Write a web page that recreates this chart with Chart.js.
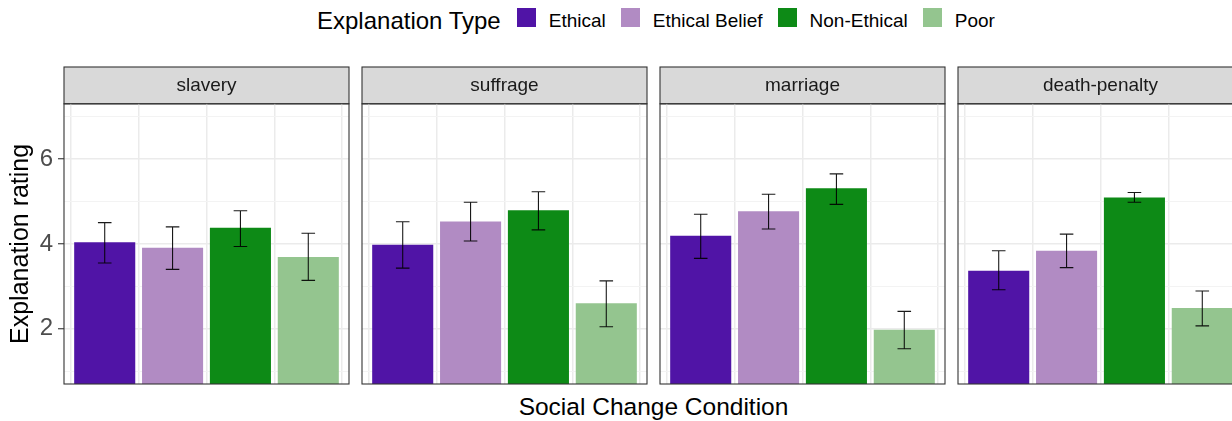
<!DOCTYPE html>
<html>
<head>
<meta charset="utf-8">
<script src="https://cdn.jsdelivr.net/npm/chart.js@4/dist/chart.umd.min.js"></script>
<style>
  html, body { margin: 0; padding: 0; background: #fff; }
  body { width: 1232px; height: 421px; overflow: hidden; position: relative;
         font-family: 'Liberation Sans', Arial, sans-serif; }
  canvas { position: absolute; }
  #legend { position: absolute; left: 317px; top: 0; display: flex; align-items: flex-start; white-space: nowrap; }
  #legend .ttl { font-size: 24px; line-height: 24px; margin-top: 8.7px; margin-right: 16px; color: #000; }
  #legend .sw { width: 19px; height: 19px; margin-top: 8px; margin-right: 13px; }
  #legend .lbl { font-size: 19px; line-height: 19px; margin-top: 10.6px; margin-right: 15px; color: #000; }
  #xtitle { position: absolute; left: 353.5px; width: 600px; text-align: center; top: 394.5px;
            font-size: 24.5px; line-height: 24px; color: #000; }
</style>
</head>
<body>
<div id="legend"></div>
<div id="xtitle">Social Change Condition</div>
<canvas id="c0"></canvas>
<canvas id="c1"></canvas>
<canvas id="c2"></canvas>
<canvas id="c3"></canvas>
<script>
// ---------------- data ----------------
const categories = ['slavery', 'suffrage', 'marriage', 'death-penalty'];
const explanationTypes = ['Ethical', 'Ethical Belief', 'Non-Ethical', 'Poor'];

const ethical       = [4.04, 3.98, 4.19, 3.37];
const ethicalBelief = [3.91, 4.53, 4.77, 3.84];
const nonEthical    = [4.38, 4.79, 5.31, 5.09];
const poor          = [3.69, 2.60, 1.98, 2.49];

const ethicalLow       = [3.55, 3.43, 3.66, 2.92];
const ethicalHigh      = [4.50, 4.52, 4.70, 3.84];
const ethicalBeliefLow = [3.40, 4.07, 4.35, 3.44];
const ethicalBeliefHigh= [4.40, 4.98, 5.17, 4.23];
const nonEthicalLow    = [3.94, 4.33, 4.93, 4.98];
const nonEthicalHigh   = [4.78, 5.23, 5.65, 5.21];
const poorLow          = [3.14, 2.05, 1.53, 2.07];
const poorHigh         = [4.25, 3.13, 2.41, 2.89];

const yTickLabels = [2, 4, 6];
const yMinorTicks = [1, 3, 5, 7];
const yRange = [0.7, 7.3];

// ---------------- styles ----------------
const colors = ['#5014A6', '#B18BC3', '#0D8A16', '#94C58F'];
const seriesValues = [ethical, ethicalBelief, nonEthical, poor];
const seriesLow = [ethicalLow, ethicalBeliefLow, nonEthicalLow, poorLow];
const seriesHigh = [ethicalHigh, ethicalBeliefHigh, nonEthicalHigh, poorHigh];

Chart.defaults.font.family = "'Liberation Sans', Arial, sans-serif";

// legend (HTML)
const legend = document.getElementById('legend');
legend.innerHTML = '<span class="ttl">Explanation Type</span>' +
  explanationTypes.map((t, i) =>
    `<span class="sw" style="background:${colors[i]}"></span><span class="lbl">${t}</span>`).join('');

const panelLefts = [64, 362, 660, 958];
const panelWidth = 285;
const canvasTop = 66;
const canvasHeight = 319;

const errorBars = {
  id: 'errorBars',
  afterDatasetsDraw(chart, args, opts) {
    const p = opts.panel;
    const xs = chart.scales.x, ys = chart.scales.y, ctx = chart.ctx;
    const ca = chart.chartArea;
    ctx.save();
    ctx.beginPath();
    ctx.rect(ca.left, ca.top, ca.right - ca.left, ca.bottom - ca.top);
    ctx.clip();
    ctx.strokeStyle = 'rgba(0,0,0,0.9)';
    ctx.lineWidth = 1.1;
    const hw = xs.getPixelForValue(1.1) - xs.getPixelForValue(1);
    for (let i = 0; i < seriesLow.length; i++) {
      const x = xs.getPixelForValue(i + 1);
      const yl = ys.getPixelForValue(seriesLow[i][p]);
      const yh = ys.getPixelForValue(seriesHigh[i][p]);
      ctx.beginPath();
      ctx.moveTo(x, yh); ctx.lineTo(x, yl);
      ctx.moveTo(x - hw, yh); ctx.lineTo(x + hw, yh);
      ctx.moveTo(x - hw, yl); ctx.lineTo(x + hw, yl);
      ctx.stroke();
    }
    ctx.restore();
  }
};

const panelFrame = {
  id: 'panelFrame',
  beforeDraw(chart) {
    const ca = chart.chartArea, ctx = chart.ctx;
    ctx.save();
    ctx.fillStyle = '#D9D9D9';
    ctx.fillRect(ca.left, 1, ca.right - ca.left, ca.top - 1);
    ctx.strokeStyle = '#333333';
    ctx.lineWidth = 1.1;
    ctx.strokeRect(ca.left, 1, ca.right - ca.left, ca.top - 1);
    ctx.restore();
  },
  afterDraw(chart) {
    const ca = chart.chartArea, ctx = chart.ctx;
    ctx.save();
    ctx.strokeStyle = '#333333';
    ctx.lineWidth = 1.1;
    ctx.strokeRect(ca.left, ca.top, ca.right - ca.left, ca.bottom - ca.top);
    ctx.restore();
  }
};

categories.forEach((cat, p) => {
  const first = p === 0;
  const cv = document.getElementById('c' + p);
  const leftPad = first ? 0 : 1;
  const yAxisW = first ? 64 : 0;
  const cw = leftPad + yAxisW + panelWidth + 1;
  cv.width = cw; cv.height = canvasHeight;
  cv.style.width = cw + 'px'; cv.style.height = canvasHeight + 'px';
  cv.style.left = (panelLefts[p] - leftPad - yAxisW) + 'px';
  cv.style.top = canvasTop + 'px';

  new Chart(cv, {
    type: 'bar',
    data: {
      datasets: [{
        label: cat,
        data: seriesValues.map((s, i) => ({ x: i + 1, y: s[p] })),
        backgroundColor: colors,
        borderWidth: 0,
        categoryPercentage: 1,
        barPercentage: 0.9
      }]
    },
    options: {
      responsive: false,
      animation: false,
      layout: { padding: { left: leftPad, right: 1, top: 1, bottom: 1 } },
      plugins: {
        legend: { display: false },
        tooltip: { enabled: false },
        title: {
          display: true,
          fullSize: false,
          text: cat,
          color: '#1A1A1A',
          font: { size: 19, weight: 'normal' },
          padding: { top: 7, bottom: 7 }
        },
        errorBars: { panel: p }
      },
      scales: {
        x: {
          type: 'linear',
          offset: false,
          min: 0.4, max: 4.6,
          afterBuildTicks: s => { s.ticks = explanationTypes.map((t, i) => ({ value: i + 1 })); },
          afterFit: s => { s.height = 0; s.paddingLeft = 0; s.paddingRight = 0; s.paddingTop = 0; s.paddingBottom = 0; },
          ticks: { display: false },
          border: { display: false },
          grid: { color: '#EBEBEB', lineWidth: 1.5, drawTicks: false }
        },
        y: {
          min: yRange[0], max: yRange[1],
          afterBuildTicks: s => {
            s.ticks = yTickLabels.concat(yMinorTicks).sort((a, b) => a - b).map(v => ({ value: v }));
          },
          afterFit: s => { s.width = yAxisW; s.paddingTop = 0; s.paddingBottom = 0; s.paddingLeft = 0; s.paddingRight = 0; },
          border: { display: false },
          grid: {
            color: c => yTickLabels.includes(c.tick.value) ? '#EBEBEB' : '#F3F3F3',
            lineWidth: c => yTickLabels.includes(c.tick.value) ? 1.5 : 1,
            drawTicks: first,
            tickLength: 6,
            tickColor: c => yTickLabels.includes(c.tick.value) ? '#333333' : 'rgba(0,0,0,0)',
            tickWidth: 1.1
          },
          ticks: {
            display: first,
            padding: 5,
            color: '#4D4D4D',
            font: { size: 24 },
            callback: v => yTickLabels.includes(v) ? String(v) : ''
          },
          title: {
            display: first,
            text: 'Explanation rating',
            color: '#000',
            font: { size: 25, weight: 'normal' },
            padding: { top: 6, bottom: 0 }
          }
        }
      }
    },
    plugins: [errorBars, panelFrame]
  });
});
</script>
</body>
</html>
